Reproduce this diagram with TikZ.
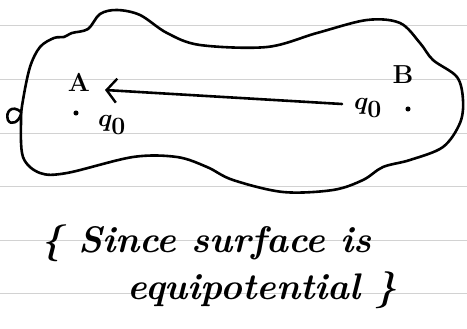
\documentclass[tikz,border=0pt]{standalone}
\usepackage{bm}
\usetikzlibrary{arrows.meta}
\begin{document}
\begin{tikzpicture}[x=1pt,y=-1pt,
  ink/.style={line width=2.6pt,line cap=round,line join=round,black},
  rule/.style={gray!35,line width=0.6pt},
  dotpt/.style={circle,fill,inner sep=1.8pt},
  note/.style={font=\fontsize{37}{42}\selectfont\bfseries\itshape,anchor=base west}]
\useasboundingbox (0,0) rectangle (467,329);
\fill[white] (0,0) rectangle (467,329);
% notebook rules
\foreach \yy in {25,79,133,186,240,293}
  \draw[rule] (0,\yy) -- (467,\yy);
% conductor outline
\draw[ink] plot[smooth cycle,tension=0.55] coordinates {
 (64,37) (72,33) (88,29) (100,14) (117,10) (140,15) (167,33) (200,45)
 (267,47) (317,33) (367,20) (400,23) (420,43) (433,60) (457,77) (463,100)
 (460,123) (443,147) (410,160) (383,167) (363,180) (333,190) (283,192)
 (233,180) (207,167) (177,157) (133,157) (67,173) (40,173) (23,157)
 (21,120) (23,100) (30,67) (40,47) (54,38)};
% small loop at left
\draw[ink] (21,112) .. controls (12,104) and (5,112) .. (8,120) .. controls (11,126) and (19,122) .. (21,114);
% points
\node[dotpt] (pA) at (76,113) {};
\node[dotpt] (pB) at (408,109) {};
\node[font=\fontsize{26}{30}\selectfont\bfseries] (lA) at (79,82) {A};
\node[font=\fontsize{26}{30}\selectfont\bfseries] (lB) at (403,75) {B};
\node[font=\fontsize{40}{44}\selectfont] (qA) at (112,125) {$\bm{q_0}$};
\node[font=\fontsize{36}{40}\selectfont] (qB) at (368,108) {$\bm{q_0}$};
% arrow
\coordinate (tail) at (342,104);
\coordinate (tip) at (105,90);
\draw[ink,-{Straight Barb[length=10pt,width=24pt,line width=2.4pt]}] (tail) -- (tip);
% note
\node[note] (n1) at (38,253) {\{ Since surface is};
\node[note] (n2) at (124,300) {equipotential \}};
\end{tikzpicture}
\end{document}
